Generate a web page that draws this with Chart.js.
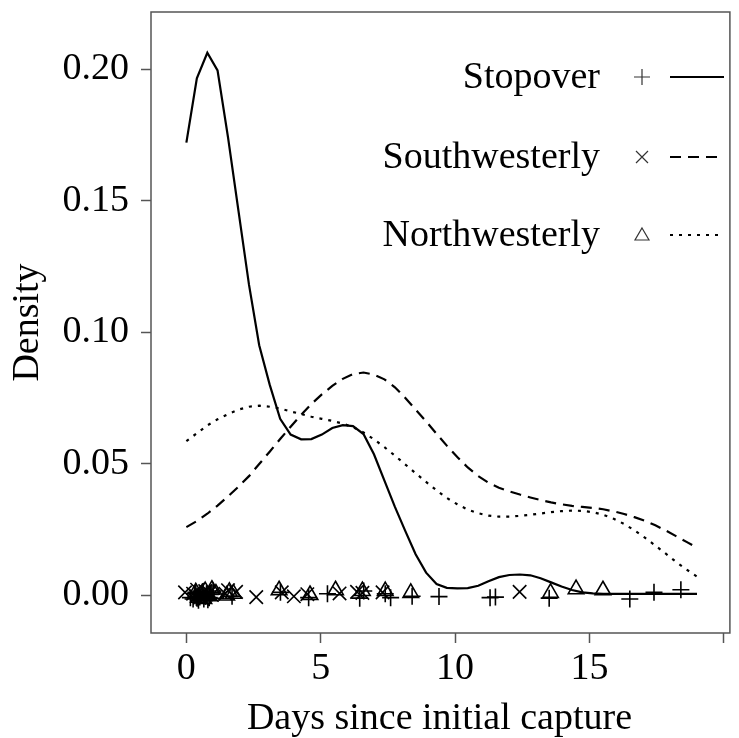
<!DOCTYPE html>
<html lang="en">
<head>
  <meta charset="UTF-8">
  <title>Density of days since initial capture</title>
  <script src="https://cdn.jsdelivr.net/npm/chart.js"></script>
</head>
<style>
  body {
    margin: 0;
    background: #fff;
  }
</style>
<body>

<canvas id="densityChart" width="739" height="738"></canvas>

<script>
  // Density curves, evaluated on a shared grid of days
  const days = [0, 0.39, 0.78, 1.16, 1.55, 1.94, 2.33, 2.71, 3.10, 3.49,
    3.88, 4.27, 4.65, 5.04, 5.43, 5.82, 6.20, 6.59, 6.98, 7.37,
    7.76, 8.14, 8.53, 8.92, 9.31, 9.69, 10.08, 10.47, 10.86, 11.24,
    11.63, 12.02, 12.41, 12.80, 13.18, 13.57, 13.96, 14.35, 14.73, 15.12,
    15.51, 15.90, 16.29, 16.67, 17.06, 17.45, 17.84, 18.22, 18.61, 19.00];

  const stopoverDensity = [0.172, 0.1965, 0.2062, 0.1995, 0.174, 0.146, 0.118, 0.095, 0.080, 0.067,
    0.061, 0.0592, 0.0593, 0.061, 0.0635, 0.0646, 0.0642, 0.0612, 0.0535, 0.0435,
    0.0335, 0.0245, 0.0155, 0.0085, 0.0042, 0.0027, 0.0025, 0.0026, 0.0035, 0.0052,
    0.0068, 0.0076, 0.0078, 0.0075, 0.0064, 0.0048, 0.0032, 0.0019, 0.0010, 0.0006,
    0.0004, 0.0004, 0.0004, 0.0004, 0.0004, 0.0004, 0.0004, 0.0004, 0.0004, 0.0004];

  const southwesterlyDensity = [0.0258, 0.0281, 0.0309, 0.0340, 0.0375, 0.0412, 0.0452, 0.0498, 0.0545, 0.0593,
    0.0640, 0.0685, 0.0726, 0.0763, 0.0795, 0.0822, 0.0840, 0.0846, 0.0838, 0.0820,
    0.0790, 0.0750, 0.0705, 0.0660, 0.0613, 0.0568, 0.0525, 0.0485, 0.0452, 0.0427,
    0.0408, 0.0394, 0.0382, 0.0371, 0.0361, 0.0352, 0.0345, 0.0339, 0.0335, 0.0331,
    0.0326, 0.0318, 0.0308, 0.0296, 0.0282, 0.0265, 0.0245, 0.0224, 0.0202, 0.0180];

  const northwesterlyDensity = [0.0585, 0.0615, 0.0645, 0.0668, 0.0688, 0.0705, 0.0716, 0.0720, 0.0716, 0.0709,
    0.0698, 0.0688, 0.0678, 0.0670, 0.0662, 0.0652, 0.0638, 0.0618, 0.0592, 0.0562,
    0.0530, 0.0497, 0.0463, 0.0430, 0.0398, 0.0369, 0.0345, 0.0325, 0.0311, 0.0302,
    0.0298, 0.0298, 0.0301, 0.0305, 0.0310, 0.0315, 0.0319, 0.0321, 0.0320, 0.0315,
    0.0305, 0.0290, 0.0270, 0.0246, 0.0218, 0.0188, 0.0157, 0.0126, 0.0097, 0.0070];

  // Individual observations (rug along the zero line, slightly jittered)
  const stopoverDays = [0.15, 0.25, 0.3, 0.35, 0.4, 0.45, 0.5, 0.55, 0.6, 0.65, 0.7, 0.75, 0.8, 0.85, 0.9, 0.95, 1.0,
    1.7, 3.5, 4.55, 5.25, 6.45, 6.6, 7.4, 7.6, 8.4, 9.4, 11.3, 11.5, 13.5, 16.5, 17.4, 18.4];
  const stopoverJitter = [-0.001, -0.0015, 0.0005, 0.001, -0.0012, -0.002, -0.0008, 0, 0.0012, -0.0015, -0.0005, 0.0005, -0.0018, -0.001, 0.0002, 0.0008, 0.0015,
    -0.0005, 0.001, -0.001, 0.0005, -0.0012, 0.0015, 0.0005, -0.001, -0.0005, -0.0006, -0.001, -0.0008, -0.0012, -0.0015, 0.001, 0.002];

  const southwesterlyDays = [-0.05, 0.25, 0.4, 0.5, 0.6, 0.7, 0.85, 0.95, 1.45, 1.55, 1.85, 2.6, 3.55, 4.0,
    4.5, 5.7, 6.35, 6.55, 7.3, 12.4];
  const southwesterlyJitter = [0.001, 0.0005, 0.002, -0.001, -0.0015, 0.0015, 0.0008, 0, 0.0005, 0.0018, 0.0012, -0.0008, 0.001, -0.0005,
    0.0003, 0.0006, 0.0012, 0.0008, 0.001, 0.0012];

  const northwesterlyDays = [0.35, 0.45, 0.55, 0.65, 0.7, 0.85, 0.95, 1.1, 1.5, 1.6, 1.75, 3.45, 4.6, 5.55,
    6.55, 7.4, 8.35, 13.55, 14.5, 15.5];
  const northwesterlyJitter = [0.001, -0.001, 0, -0.0015, 0.0015, -0.0005, 0.002, 0.0005, -0.0002, 0.0012, 0.0005, 0.0018, 0, 0.0018,
    0.0015, 0.0015, 0.0008, 0.0008, 0.0022, 0.0018];

  const xTicks = [0, 5, 10, 15, 20];
  const yTicks = [0, 0.05, 0.10, 0.15, 0.20];

  const groups = ['Stopover', 'Southwesterly', 'Northwesterly'];
  const lineDashes = [[], [11, 7], [3, 6]];
  const symbols = ['cross', 'crossRot', 'triangle'];

  const serif = 'Liberation Serif';

  function toPoints(xs, ys) {
    return xs.map((x, i) => ({ x: x, y: ys[i] }));
  }

  const curveSets = [stopoverDensity, southwesterlyDensity, northwesterlyDensity].map((ys, i) => ({
    label: groups[i],
    data: toPoints(days, ys),
    borderColor: '#000',
    borderWidth: 2.2,
    borderDash: lineDashes[i],
    pointRadius: 0,
    tension: 0,
    showLine: true,
    fill: false
  }));

  const rugSets = [
    [stopoverDays, stopoverJitter, 8.5],
    [southwesterlyDays, southwesterlyJitter, 9.5],
    [northwesterlyDays, northwesterlyJitter, 9]
  ].map((r, i) => ({
    label: groups[i] + ' obs',
    data: toPoints(r[0], r[1]),
    showLine: false,
    pointStyle: symbols[i],
    pointRadius: r[2],
    pointBorderWidth: 1.6,
    pointBorderColor: '#000',
    pointBackgroundColor: 'rgba(0,0,0,0)'
  }));

  // box round the plot area and the legend at top right
  const frameAndLegend = {
    id: 'frameAndLegend',
    afterDraw(chart) {
      const ctx = chart.ctx;
      const a = chart.chartArea;
      ctx.save();
      ctx.strokeStyle = '#555';
      ctx.lineWidth = 1.5;
      ctx.strokeRect(a.left, a.top, a.right - a.left + 2, a.bottom - a.top);

      const rowsY = [77, 157, 235];
      ctx.font = '38px "' + serif + '"';
      ctx.fillStyle = '#000';
      ctx.textAlign = 'right';
      ctx.textBaseline = 'alphabetic';
      groups.forEach((g, i) => {
        const y = rowsY[i];
        ctx.fillText(g, 600, y + 11);

        ctx.strokeStyle = '#333';
        ctx.lineWidth = 1.2;
        ctx.setLineDash([]);
        ctx.beginPath();
        if (i === 0) {
          ctx.moveTo(634, y); ctx.lineTo(650, y);
          ctx.moveTo(642, y - 8); ctx.lineTo(642, y + 8);
        } else if (i === 1) {
          ctx.moveTo(636, y - 6); ctx.lineTo(648, y + 6);
          ctx.moveTo(648, y - 6); ctx.lineTo(636, y + 6);
        } else {
          ctx.moveTo(642, y - 7); ctx.lineTo(649, y + 5); ctx.lineTo(635, y + 5); ctx.closePath();
        }
        ctx.stroke();

        ctx.strokeStyle = '#000';
        ctx.lineWidth = 2.2;
        ctx.setLineDash(lineDashes[i]);
        ctx.beginPath();
        ctx.moveTo(670, y);
        ctx.lineTo(724, y);
        ctx.stroke();
      });
      ctx.restore();
    }
  };

  const ctx = document.getElementById('densityChart').getContext('2d');
  const densityChart = new Chart(ctx, {
    type: 'scatter',
    data: {
      datasets: curveSets.concat(rugSets)
    },
    plugins: [frameAndLegend],
    options: {
      responsive: false,
      animation: false,
      layout: {
        padding: { top: 12, right: 1, left: 0, bottom: 0 }
      },
      plugins: {
        legend: { display: false },
        tooltip: { enabled: false }
      },
      scales: {
        x: {
          type: 'linear',
          min: -1.316,
          max: 20.15,
          afterBuildTicks: scale => { scale.ticks = xTicks.map(v => ({ value: v })); },
          afterFit: scale => {
            scale.height = 105;
            scale.paddingLeft = 0;
            scale.paddingRight = 0;
          },
          grid: {
            drawOnChartArea: false,
            drawTicks: true,
            tickLength: 10,
            tickWidth: 1.5,
            tickColor: '#555'
          },
          border: { display: false },
          ticks: {
            autoSkip: false,
            maxRotation: 0,
            padding: 3,
            color: '#000',
            font: { family: serif, size: 38 },
            callback: v => (v === 20 ? '' : String(v))
          },
          title: {
            display: true,
            text: 'Days since initial capture',
            color: '#000',
            font: { family: serif, size: 38, lineHeight: 1.0 },
            padding: { top: 0, bottom: 0 }
          }
        },
        y: {
          type: 'linear',
          min: -0.01445,
          max: 0.2217,
          afterBuildTicks: scale => { scale.ticks = yTicks.map(v => ({ value: v })); },
          afterFit: scale => {
            scale.width = 151;
            scale.paddingTop = 0;
            scale.paddingBottom = 0;
          },
          grid: {
            drawOnChartArea: false,
            drawTicks: true,
            tickLength: 10,
            tickWidth: 1.5,
            tickColor: '#555'
          },
          border: { display: false },
          ticks: {
            padding: 12,
            color: '#000',
            font: { family: serif, size: 38 },
            callback: v => v.toFixed(2)
          },
          title: {
            display: true,
            text: 'Density',
            color: '#000',
            font: { family: serif, size: 38 },
            padding: { top: 5, bottom: 0 }
          }
        }
      }
    }
  });
</script>
</body>
</html>
